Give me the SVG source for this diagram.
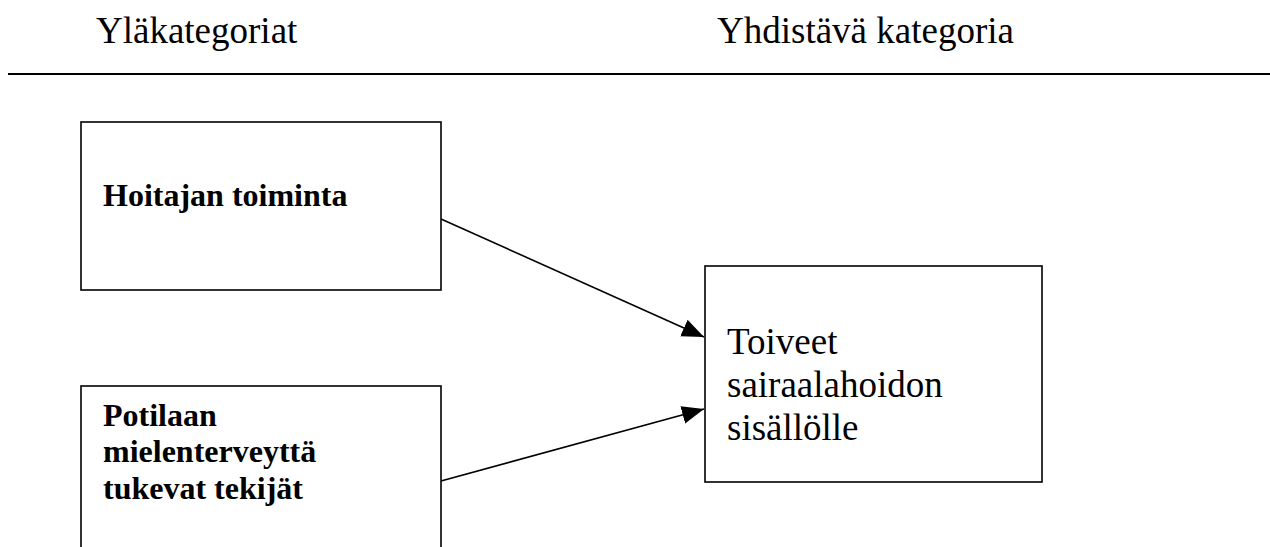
<svg xmlns="http://www.w3.org/2000/svg" width="1270" height="547" viewBox="0 0 1270 547">
  <style>
    .head { font-family: "Liberation Serif", "Times New Roman", serif; font-size: 37px; fill: #000; }
    .box { fill: #fff; stroke: #000; stroke-width: 1.6; }
    .bold { font-family: "Liberation Serif", "Times New Roman", serif; font-size: 32px; font-weight: bold; fill: #000; }
    .reg { font-family: "Liberation Serif", "Times New Roman", serif; font-size: 37px; fill: #000; }
    .edge { stroke: #000; stroke-width: 1.6; fill: none; marker-end: url(#arrow); }
  </style>
  <defs>
    <marker id="arrow" markerUnits="userSpaceOnUse" markerWidth="24" markerHeight="20" refX="22" refY="9" orient="auto">
      <path d="M0,0 L22,9 L0,18 Z" fill="#000"/>
    </marker>
  </defs>

  <rect width="1270" height="547" fill="#fff"/>

  <!-- column headings -->
  <g id="headings">
    <text class="head" x="96" y="43">Yläkategoriat</text>
    <text class="head" x="717" y="43">Yhdistävä kategoria</text>
    <line x1="8" y1="74" x2="1270" y2="74" stroke="#000" stroke-width="2.2"/>
  </g>

  <g id="connectors">
    <line class="edge" x1="441" y1="219" x2="704" y2="337"/>
    <line class="edge" x1="441" y1="481" x2="704" y2="409"/>
  </g>

  <g id="node-hoitajan">
    <rect class="box" x="81" y="122" width="360" height="168"/>
    <text class="bold" x="103" y="206">Hoitajan toiminta</text>
  </g>

  <g id="node-potilaan">
    <rect class="box" x="81" y="386" width="360" height="180"/>
    <text class="bold" x="103" y="426">Potilaan</text>
    <text class="bold" x="103" y="462">mielenterveyttä</text>
    <text class="bold" x="103" y="499">tukevat tekijät</text>
  </g>

  <g id="node-toiveet">
    <rect class="box" x="705" y="266" width="337" height="216"/>
    <text class="reg" x="727" y="354">Toiveet</text>
    <text class="reg" x="727" y="397">sairaalahoidon</text>
    <text class="reg" x="727" y="440">sisällölle</text>
  </g>
</svg>
